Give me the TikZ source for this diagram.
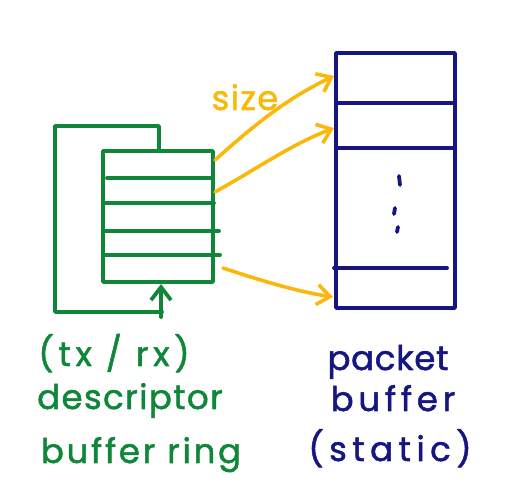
\documentclass[tikz,border=0pt]{standalone}
\usepackage{fontspec}
\setmainfont{Poppins}
\newfontfamily\hand{Poppins}[FakeBold=1.5]
\usetikzlibrary{arrows.meta}
\definecolor{ringgreen}{RGB}{16,134,56}
\definecolor{bufnavy}{RGB}{22,22,130}
\definecolor{ptramber}{RGB}{250,185,10}
\tikzset{
  gline/.style={draw=ringgreen, line width=3.8pt},
  bline/.style={draw=bufnavy, line width=3.8pt},
  yarrow/.style={draw=ptramber, line width=3.6pt, -{Straight Barb[length=13pt,width=20pt,line width=3.6pt]}},
  handtext/.style={font=\fontsize{34}{40}\hand, anchor=base, inner sep=0pt},
  glabel/.style={handtext, text=ringgreen},
  blabel/.style={handtext, text=bufnavy},
}
\begin{document}
\begin{tikzpicture}[x=1pt,y=-1pt, line cap=round, line join=round]
\useasboundingbox (0,0) rectangle (512,486);
% green descriptor ring
\node[gline, minimum width=110pt, minimum height=131pt, inner sep=0pt] (ring) at (158,216.5) {};
\draw[gline] (107,178) -- (213,178);
\draw[gline] (103,203) -- (214,203);
\draw[gline] (105,231) -- (219,231);
\draw[gline] (103,255) -- (220,255);
\coordinate (wrapTop) at (159,151);
\coordinate (wrapEnd) at (161,317);
\coordinate (ringBot) at (161,284);
\draw[gline] (wrapTop) -- (159,126) -- (55,126) -- (55,312) -- (162,312);
\draw[gline, -{Straight Barb[length=13pt,width=20pt,line width=3.8pt]}] (wrapEnd) -- (ringBot);
% navy packet buffer
\node[bline, minimum width=119pt, minimum height=255pt, inner sep=0pt] (buf) at (395.5,180.5) {};
\draw[bline] (338,103) -- (452,103);
\draw[bline] (336,148) -- (455,148);
\draw[bline] (334,268) -- (447,268);
\draw[bline] (399,176) -- (400,185);
\draw[bline] (395,208) -- (394,214);
\draw[bline] (398,227) -- (397,232);
% amber pointers
\coordinate (d1) at (215,160);
\coordinate (d2) at (215,192);
\coordinate (d3) at (223,268);
\coordinate (p1) at (334,76);
\coordinate (p2) at (334,128);
\coordinate (p3) at (333,297);
\draw[yarrow] (d1) .. controls (262,118) and (292,96) .. (p1);
\draw[yarrow] (d2) .. controls (255,170) and (290,145) .. (p2);
\draw[yarrow] (d3) .. controls (265,282) and (300,292) .. (p3);
\node[handtext, text=ptramber] (size) at (245,110) {\addfontfeatures{LetterSpace=4}size};
% labels
\node[glabel] (l1) at (114,366) {\addfontfeatures{LetterSpace=14}(tx / rx)};
\node[glabel] (l2) at (130,409) {\addfontfeatures{LetterSpace=4}descriptor};
\node[glabel] (l3) at (141,463) {\addfontfeatures{LetterSpace=8}buffer ring};
\node[blabel] (r1) at (388,370) {\addfontfeatures{LetterSpace=2}packet};
\node[blabel] (r2) at (393,411) {\addfontfeatures{LetterSpace=14}buffer};
\node[blabel] (r3) at (390,461) {\addfontfeatures{LetterSpace=16}(static)};
\end{tikzpicture}
\end{document}
